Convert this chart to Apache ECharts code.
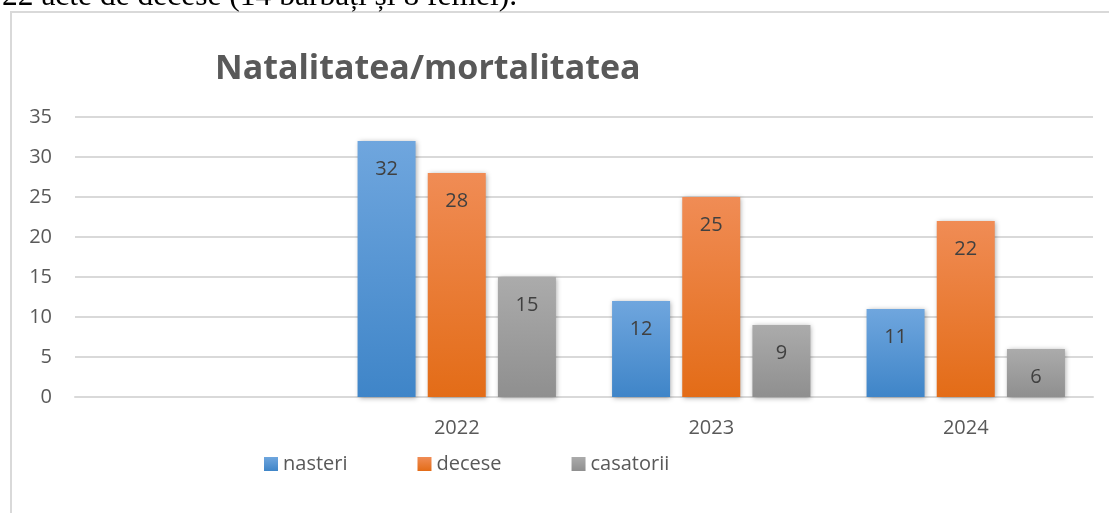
<!DOCTYPE html>
<html>
<head>
<meta charset="utf-8">
<script src="https://cdn.jsdelivr.net/npm/echarts@6/dist/echarts.min.js"></script>
<style>
  html, body { margin: 0; padding: 0; background: #fff; }
  #chart { width: 1109px; height: 513px; }
</style>
</head>
<body>
<div id="chart"></div>
<script>
// date
const categories = ["", "2022", "2023", "2024"];
const nasteri = [null, 32, 12, 11];
const decese = [null, 28, 25, 22];
const casatorii = [null, 15, 9, 6];
const seriesNames = ["nasteri", "decese", "casatorii"];

const font = "'Open Sans', sans-serif";

// gradient vertical pentru fiecare serie
function grad(top, bottom) {
  return {
    type: "linear", x: 0, y: 0, x2: 0, y2: 1,
    colorStops: [{ offset: 0, color: top }, { offset: 1, color: bottom }]
  };
}

function bar(name, data, color) {
  return {
    name: name,
    type: "bar",
    data: data,
    barWidth: 58,
    barGap: "21%",
    itemStyle: {
      color: color,
      shadowBlur: 5,
      shadowColor: "rgba(0,0,0,0.35)",
      shadowOffsetX: 1,
      shadowOffsetY: 1
    },
    label: {
      show: true,
      position: "insideTop",
      distance: 18,
      color: "#404040",
      fontSize: 20,
      fontFamily: font
    }
  };
}

const chart = echarts.init(document.getElementById("chart"));
chart.setOption({
  animation: false,
  title: {
    text: "Natalitatea/mortalitatea",
    left: 210,
    top: 47,
    textStyle: { fontSize: 34, fontWeight: "bold", color: "#595959", fontFamily: font }
  },
  graphic: [
    {
      // chenarul graficului
      type: "rect",
      shape: { x: 11, y: 12, width: 1120, height: 520 },
      style: { fill: null, stroke: "#d9d9d9", lineWidth: 2 }
    },
    {
      // textul documentului, taiat sus
      type: "text",
      left: 2,
      top: -19,
      style: {
        text: "22 acte de decese (14 bărbați și 8 femei).",
        font: "31.5px 'Liberation Serif', serif",
        fill: "#000"
      }
    }
  ],
  legend: {
    data: seriesNames,
    left: 259,
    top: 449,
    icon: "rect",
    itemWidth: 14,
    itemHeight: 14,
    itemGap: 70,
    textStyle: { fontSize: 20, color: "#595959", fontFamily: font }
  },
  grid: { left: 75, right: 16, top: 117, bottom: 116 },
  xAxis: {
    type: "category",
    data: categories,
    axisTick: { show: false },
    axisLine: { lineStyle: { color: "#d9d9d9", width: 2 } },
    axisLabel: { margin: 21, fontSize: 20, color: "#595959", fontFamily: font }
  },
  yAxis: {
    type: "value",
    min: 0,
    max: 35,
    interval: 5,
    axisLine: { show: false },
    axisTick: { show: false },
    splitLine: { lineStyle: { color: "#d9d9d9", width: 2 } },
    axisLabel: { margin: 23, fontSize: 20, color: "#595959", fontFamily: font }
  },
  series: [
    bar("nasteri", nasteri, grad("#6fa6de", "#3f85c8")),
    bar("decese", decese, grad("#f08c55", "#e36c17")),
    bar("casatorii", casatorii, grad("#ababab", "#8f8f8f"))
  ]
});
</script>
</body>
</html>
